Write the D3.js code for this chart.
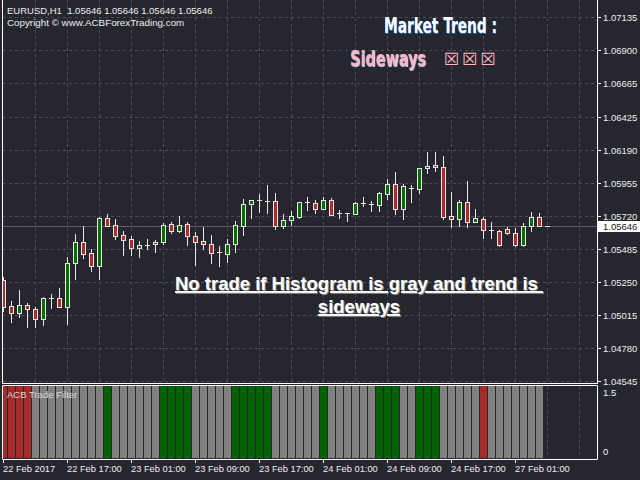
<!DOCTYPE html>
<html><head><meta charset="utf-8">
<script src="https://cdn.jsdelivr.net/npm/d3@7"></script>
<style>html,body{margin:0;padding:0;background:#25262e;overflow:hidden}svg{display:block}</style>
</head><body><svg id="c" width="640" height="480"></svg>
<script>
// ---------- data ----------
const headerText = "EURUSD,H1  1.05646 1.05646 1.05646 1.05646";
const copyrightText = "Copyright \u00A9 www.ACBForexTrading.com";
const currentPrice = 1.05646;
const opens  = [1.05263,1.05078,1.05026,1.05083,1.05054,1.04983,1.05134,1.05133,1.05073,1.05382,
                1.05534,1.05453,1.05365,1.05703,1.05653,1.05582,1.05553,1.05493,1.05513,1.05518,
                1.05536,1.05662,1.05615,1.05662,1.05575,1.05541,1.05518,1.05461,1.05451,1.05518,
                1.05650,1.05803,1.05831,1.05829,1.05824,1.05650,1.05689,1.05714,1.05817,1.05812,
                1.05771,1.05834,1.05739,1.05741,1.05736,1.05810,1.05803,1.05800,1.05878,1.05948,
                1.05767,1.05921,1.05914,1.06060,1.06081,1.06067,1.05717,1.05696,1.05819,1.05675,
                1.05696,1.05617,1.05612,1.05625,1.05596,1.05515,1.05646,1.05710,1.05646];
const highs  = [1.05282,1.05113,1.05192,1.05097,1.05073,1.05142,1.05163,1.05208,1.05425,1.05591,
                1.05650,1.05484,1.05712,1.05734,1.05698,1.05612,1.05577,1.05539,1.05553,1.05548,
                1.05667,1.05679,1.05722,1.05675,1.05608,1.05643,1.05584,1.05506,1.05555,1.05684,
                1.05841,1.05834,1.05876,1.05941,1.05881,1.05734,1.05755,1.05821,1.05853,1.05834,
                1.05857,1.05846,1.05762,1.05743,1.05821,1.05857,1.05826,1.05893,1.05983,1.06033,
                1.05950,1.05941,1.06062,1.06176,1.06176,1.06147,1.05891,1.05834,1.05969,1.05769,
                1.05712,1.05677,1.05622,1.05643,1.05632,1.05670,1.05748,1.05741,1.05646];
const lows   = [1.05044,1.04966,1.05001,1.04930,1.04930,1.04944,1.05066,1.05070,1.04949,1.05270,
                1.05422,1.05329,1.05270,1.05648,1.05555,1.05444,1.05441,1.05427,1.05482,1.05463,
                1.05520,1.05596,1.05608,1.05513,1.05370,1.05484,1.05387,1.05365,1.05392,1.05465,
                1.05584,1.05703,1.05746,1.05743,1.05627,1.05632,1.05655,1.05703,1.05762,1.05739,
                1.05767,1.05727,1.05705,1.05684,1.05734,1.05791,1.05755,1.05755,1.05839,1.05734,
                1.05700,1.05819,1.05881,1.06028,1.06042,1.05696,1.05643,1.05648,1.05643,1.05673,
                1.05563,1.05565,1.05508,1.05589,1.05506,1.05506,1.05615,1.05646,1.05646];
const closes = [1.05073,1.05026,1.05083,1.05054,1.04983,1.05133,1.05132,1.05073,1.05382,1.05534,
                1.05451,1.05365,1.05703,1.05650,1.05579,1.05550,1.05493,1.05513,1.05512,1.05532,
                1.05655,1.05615,1.05655,1.05575,1.05536,1.05518,1.05458,1.05460,1.05520,1.05655,
                1.05805,1.05831,1.05830,1.05828,1.05650,1.05691,1.05719,1.05819,1.05816,1.05771,
                1.05834,1.05729,1.05738,1.05740,1.05814,1.05811,1.05802,1.05886,1.05950,1.05767,
                1.05933,1.05920,1.06060,1.06074,1.06067,1.05714,1.05696,1.05819,1.05675,1.05703,
                1.05617,1.05616,1.05511,1.05596,1.05515,1.05646,1.05710,1.05646,1.05646];
// ACB Trade Filter histogram (one bar per candle, current bar not drawn)
const filterValues = [1.5,1.5,1.5,1.5,1.5,1.5,1.5,1.5,1.5,1.5,1.5,1.5,1.5,1.5,1.5,1.5,1.5,
                      1.5,1.5,1.5,1.5,1.5,1.5,1.5,1.5,1.5,1.5,1.5,1.5,1.5,1.5,1.5,1.5,1.5,
                      1.5,1.5,1.5,1.5,1.5,1.5,1.5,1.5,1.5,1.5,1.5,1.5,1.5,1.5,1.5,1.5,1.5,
                      1.5,1.5,1.5,1.5,1.5,1.5,1.5,1.5,1.5,1.5,1.5,1.5,1.5,1.5,1.5,1.5,1.5];
const filterStates = ["sell","sell","sell","sell",
  "flat","flat","flat","flat","flat","flat","flat","flat","flat",
  "buy",
  "flat","flat","flat","flat","flat","flat",
  "buy","buy","buy","buy",
  "flat","flat","flat","flat","flat",
  "buy","buy","buy","buy","buy",
  "flat","flat","flat","flat","flat","flat",
  "buy",
  "flat","flat","flat","flat","flat","flat",
  "buy","buy","buy",
  "flat","flat",
  "buy","buy","buy",
  "flat","flat","flat","flat","flat",
  "sell",
  "flat","flat","flat","flat","flat","flat","flat"];
const priceTicks = [1.07135,1.06900,1.06665,1.06425,1.06190,1.05955,1.05720,1.05485,1.05250,1.05015,1.04780,1.04545];
const priceTickLabels = ["1.07135","1.06900","1.06665","1.06425","1.06190","1.05955","1.05720","1.05485","1.05250","1.05015","1.04780","1.04545"];
const timeTickIndex = [0,8,16,24,32,40,48,56,64];
const timeTickLabels = ["22 Feb 2017","22 Feb 17:00","23 Feb 01:00","23 Feb 09:00","23 Feb 17:00","24 Feb 01:00","24 Feb 09:00","24 Feb 17:00","27 Feb 01:00"];
const histTicks = [1.5, 0];
const histTickLabels = ["1.5","0"];
const trendTitle = "Market Trend :";
const trendValue = "Sideways";
const trendBoxes = ["\u2612","\u2612","\u2612"];
const noteLines = ["No trade if Histogram is gray and trend is ", "sideways"];
const indicatorName = "ACB Trade Filter";

// ---------- layout ----------
const BG = "#25262e", GRID = "#4a4c56", FG = "#eeeeee";
const plotL = 3, plotR = 597, mainT = 0, mainB = 383, histT = 386, histB = 458;
const svg = d3.select("#c");
svg.append("rect").attr("width",640).attr("height",480).attr("fill",BG);

const x = d3.scaleLinear().domain([0, 74]).range([3, 595]);
const y = d3.scaleLinear().domain([1.04545, 1.07135]).range([380.7, 17.3]);
const yH = d3.scaleLinear().domain([0, 1.5]).range([histB, histT]);
const px = i => Math.round(x(i));
const py = v => Math.round(y(v));

const defs = svg.append("defs");
defs.append("clipPath").attr("id","mainClip").append("rect")
  .attr("x",plotL).attr("y",mainT).attr("width",plotR-plotL).attr("height",mainB-mainT);
defs.append("clipPath").attr("id","histClip").append("rect")
  .attr("x",plotL).attr("y",histT).attr("width",plotR-plotL).attr("height",histB-histT+1);

// grid
const gridCols = d3.range(4, 75, 4);
const grid = svg.append("g").attr("stroke",GRID).attr("stroke-dasharray","3,3").attr("stroke-width",1);
grid.selectAll("line.h").data(priceTicks).join("line").attr("class","h")
  .attr("x1",plotL).attr("x2",plotR).attr("y1",d=>py(d)+0.5).attr("y2",d=>py(d)+0.5);
grid.selectAll("line.v").data(gridCols).join("line").attr("class","v")
  .attr("x1",d=>px(d)+0.5).attr("x2",d=>px(d)+0.5).attr("y1",mainT).attr("y2",mainB);
grid.selectAll("line.vh").data(gridCols).join("line").attr("class","vh")
  .attr("x1",d=>px(d)+0.5).attr("x2",d=>px(d)+0.5).attr("y1",histT).attr("y2",histB);

// current price line
svg.append("line").attr("x1",plotL).attr("x2",plotR)
  .attr("y1",py(currentPrice)+0.5).attr("y2",py(currentPrice)+0.5)
  .attr("stroke","#5a5b66").attr("stroke-width",1);

// candles
const candles = opens.map((o,i)=>({i, o, h:highs[i], l:lows[i], c:closes[i]}));
const cg = svg.append("g").attr("clip-path","url(#mainClip)");
const cand = cg.selectAll("g").data(candles).join("g");
cand.append("line")
  .attr("x1",d=>px(d.i)+0.5).attr("x2",d=>px(d.i)+0.5)
  .attr("y1",d=>py(d.h)).attr("y2",d=>py(d.l)+1)
  .attr("stroke","#e8e8e8").attr("stroke-width",1);
cand.each(function(d){
  const g = d3.select(this);
  const top = py(Math.max(d.o,d.c)), bot = py(Math.min(d.o,d.c));
  const cx = px(d.i);
  if (bot - top < 1) {
    g.append("line").attr("x1",cx-2).attr("x2",cx+3).attr("y1",top+0.5).attr("y2",top+0.5)
      .attr("stroke","#e8e8e8").attr("stroke-width",1);
  } else {
    g.append("rect").attr("x",cx-1.5).attr("y",top+0.5).attr("width",4).attr("height",bot-top)
      .attr("fill", d.c > d.o ? "#007000" : "#b02a2a")
      .attr("stroke","#e8e8e8").attr("stroke-width",1);
  }
});

// histogram
const stateColor = {sell:"#a52a2a", flat:"#808080", buy:"#006400"};
svg.append("g").attr("clip-path","url(#histClip)")
  .selectAll("rect").data(filterValues).join("rect")
  .attr("x",(d,i)=>px(i)-3).attr("width",7)
  .attr("y",d=>Math.round(yH(d))).attr("height",d=>histB - Math.round(yH(d)))
  .attr("fill",(d,i)=>stateColor[filterStates[i]]);

// borders
const border = svg.append("g").attr("stroke","#ffffff").attr("stroke-width",1).attr("fill","none");
border.append("line").attr("x1",2.5).attr("x2",2.5).attr("y1",0).attr("y2",mainB+1);
border.append("line").attr("x1",plotR+0.5).attr("x2",plotR+0.5).attr("y1",0).attr("y2",mainB+1);
border.append("line").attr("x1",2.5).attr("x2",plotR+0.5).attr("y1",mainB+0.5).attr("y2",mainB+0.5);
border.append("line").attr("x1",2.5).attr("x2",plotR+0.5).attr("y1",histT-0.5).attr("y2",histT-0.5);
border.append("line").attr("x1",2.5).attr("x2",2.5).attr("y1",histT).attr("y2",histB+1);
border.append("line").attr("x1",plotR+0.5).attr("x2",plotR+0.5).attr("y1",histT).attr("y2",histB+1);
border.append("line").attr("x1",2.5).attr("x2",plotR+0.5).attr("y1",histB+1.5).attr("y2",histB+1.5);

const FONT = "'Liberation Sans', Arial, sans-serif";
// right price axis
const ra = svg.append("g").attr("font-family",FONT).attr("font-size","9.5px").attr("fill",FG);
ra.selectAll("line").data(priceTicks).join("line")
  .attr("x1",plotR+1).attr("x2",plotR+4).attr("y1",d=>py(d)+0.5).attr("y2",d=>py(d)+0.5)
  .attr("stroke","#ffffff");
ra.selectAll("text").data(priceTicks).join("text")
  .attr("x",603).attr("y",d=>py(d)+3.5).text((d,i)=>priceTickLabels[i]);
// current price tag
svg.append("rect").attr("x",598).attr("y",py(currentPrice)-5).attr("width",42).attr("height",11).attr("fill","#ffffff");
svg.append("text").attr("x",603).attr("y",py(currentPrice)+3.5).attr("font-family",FONT)
  .attr("font-size","9.5px").attr("fill","#1a1a1a").text(currentPrice.toFixed(5));

// histogram axis
svg.append("g").attr("font-family",FONT).attr("font-size","9.5px").attr("fill",FG)
  .selectAll("text").data(histTicks).join("text")
  .attr("x",603).attr("y",(d,i)=> i===0 ? yH(d)+10 : yH(d)-3).text((d,i)=>histTickLabels[i]);

// time axis
const ta = svg.append("g").attr("font-family",FONT).attr("font-size","9.3px").attr("fill",FG);
ta.selectAll("line").data(timeTickIndex).join("line")
  .attr("x1",d=>px(d)+0.5).attr("x2",d=>px(d)+0.5).attr("y1",histB+2).attr("y2",histB+5)
  .attr("stroke","#ffffff");
ta.selectAll("text").data(timeTickIndex).join("text")
  .attr("x",d=>px(d)).attr("y",472).text((d,i)=>timeTickLabels[i]);

// header
svg.append("text").attr("x",7).attr("y",14).attr("font-family",FONT).attr("font-size","9.5px")
  .attr("fill",FG).style("white-space","pre").text(headerText);
svg.append("text").attr("x",7).attr("y",26).attr("font-family",FONT).attr("font-size","9.8px")
  .attr("fill",FG).text(copyrightText);
svg.append("text").attr("x",7).attr("y",398).attr("font-family",FONT).attr("font-size","9.5px")
  .attr("fill","#d8d8d8").text(indicatorName);

// market trend (bold condensed text, horizontally fitted to the reference width)
const NARROW = "'Liberation Sans Narrow', 'DejaVu Sans Condensed', sans-serif";
function fancy(txt, xx, yy, len, size, color, shadow){
  const g = svg.append("g");
  const sh = g.append("text").attr("x",1).attr("y",1).attr("font-family",NARROW).attr("font-weight","bold")
    .attr("font-size",size+"px").attr("fill",shadow).text(txt);
  g.append("text").attr("x",0).attr("y",0).attr("font-family",NARROW).attr("font-weight","bold")
    .attr("font-size",size+"px").attr("fill",color).text(txt);
  const natural = sh.node().getComputedTextLength();
  g.attr("transform",`translate(${xx},${yy}) scale(${len/natural},1)`);
}
fancy(trendTitle, 384, 33, 113, 22, "#ffffff", "#1e6fd0");
fancy(trendValue, 350, 66, 76, 22, "#ffb6c1", "#9fc8ff");
svg.append("g").selectAll("text").data(trendBoxes).join("text")
  .attr("x",(d,i)=>444 + i*18.3).attr("y",65).attr("font-family","'DejaVu Sans', sans-serif")
  .attr("font-size","17px").attr("fill","#ffb6c1").text(d=>d);

// note
noteLines.forEach((t,k)=>{
  const yy = k===0 ? 290 : 313;
  svg.append("text").attr("x",359).attr("y",yy).attr("text-anchor","middle")
    .attr("font-family",FONT).attr("font-weight","bold").attr("font-size","18.5px")
    .attr("fill","#8a8a8a").attr("text-decoration","underline").style("white-space","pre")
    .attr("transform","translate(1,1)").text(t);
  svg.append("text").attr("x",359).attr("y",yy).attr("text-anchor","middle")
    .attr("font-family",FONT).attr("font-weight","bold").attr("font-size","18.5px")
    .attr("fill","#ffffff").attr("text-decoration","underline").style("white-space","pre").text(t);
});
</script></body></html>
